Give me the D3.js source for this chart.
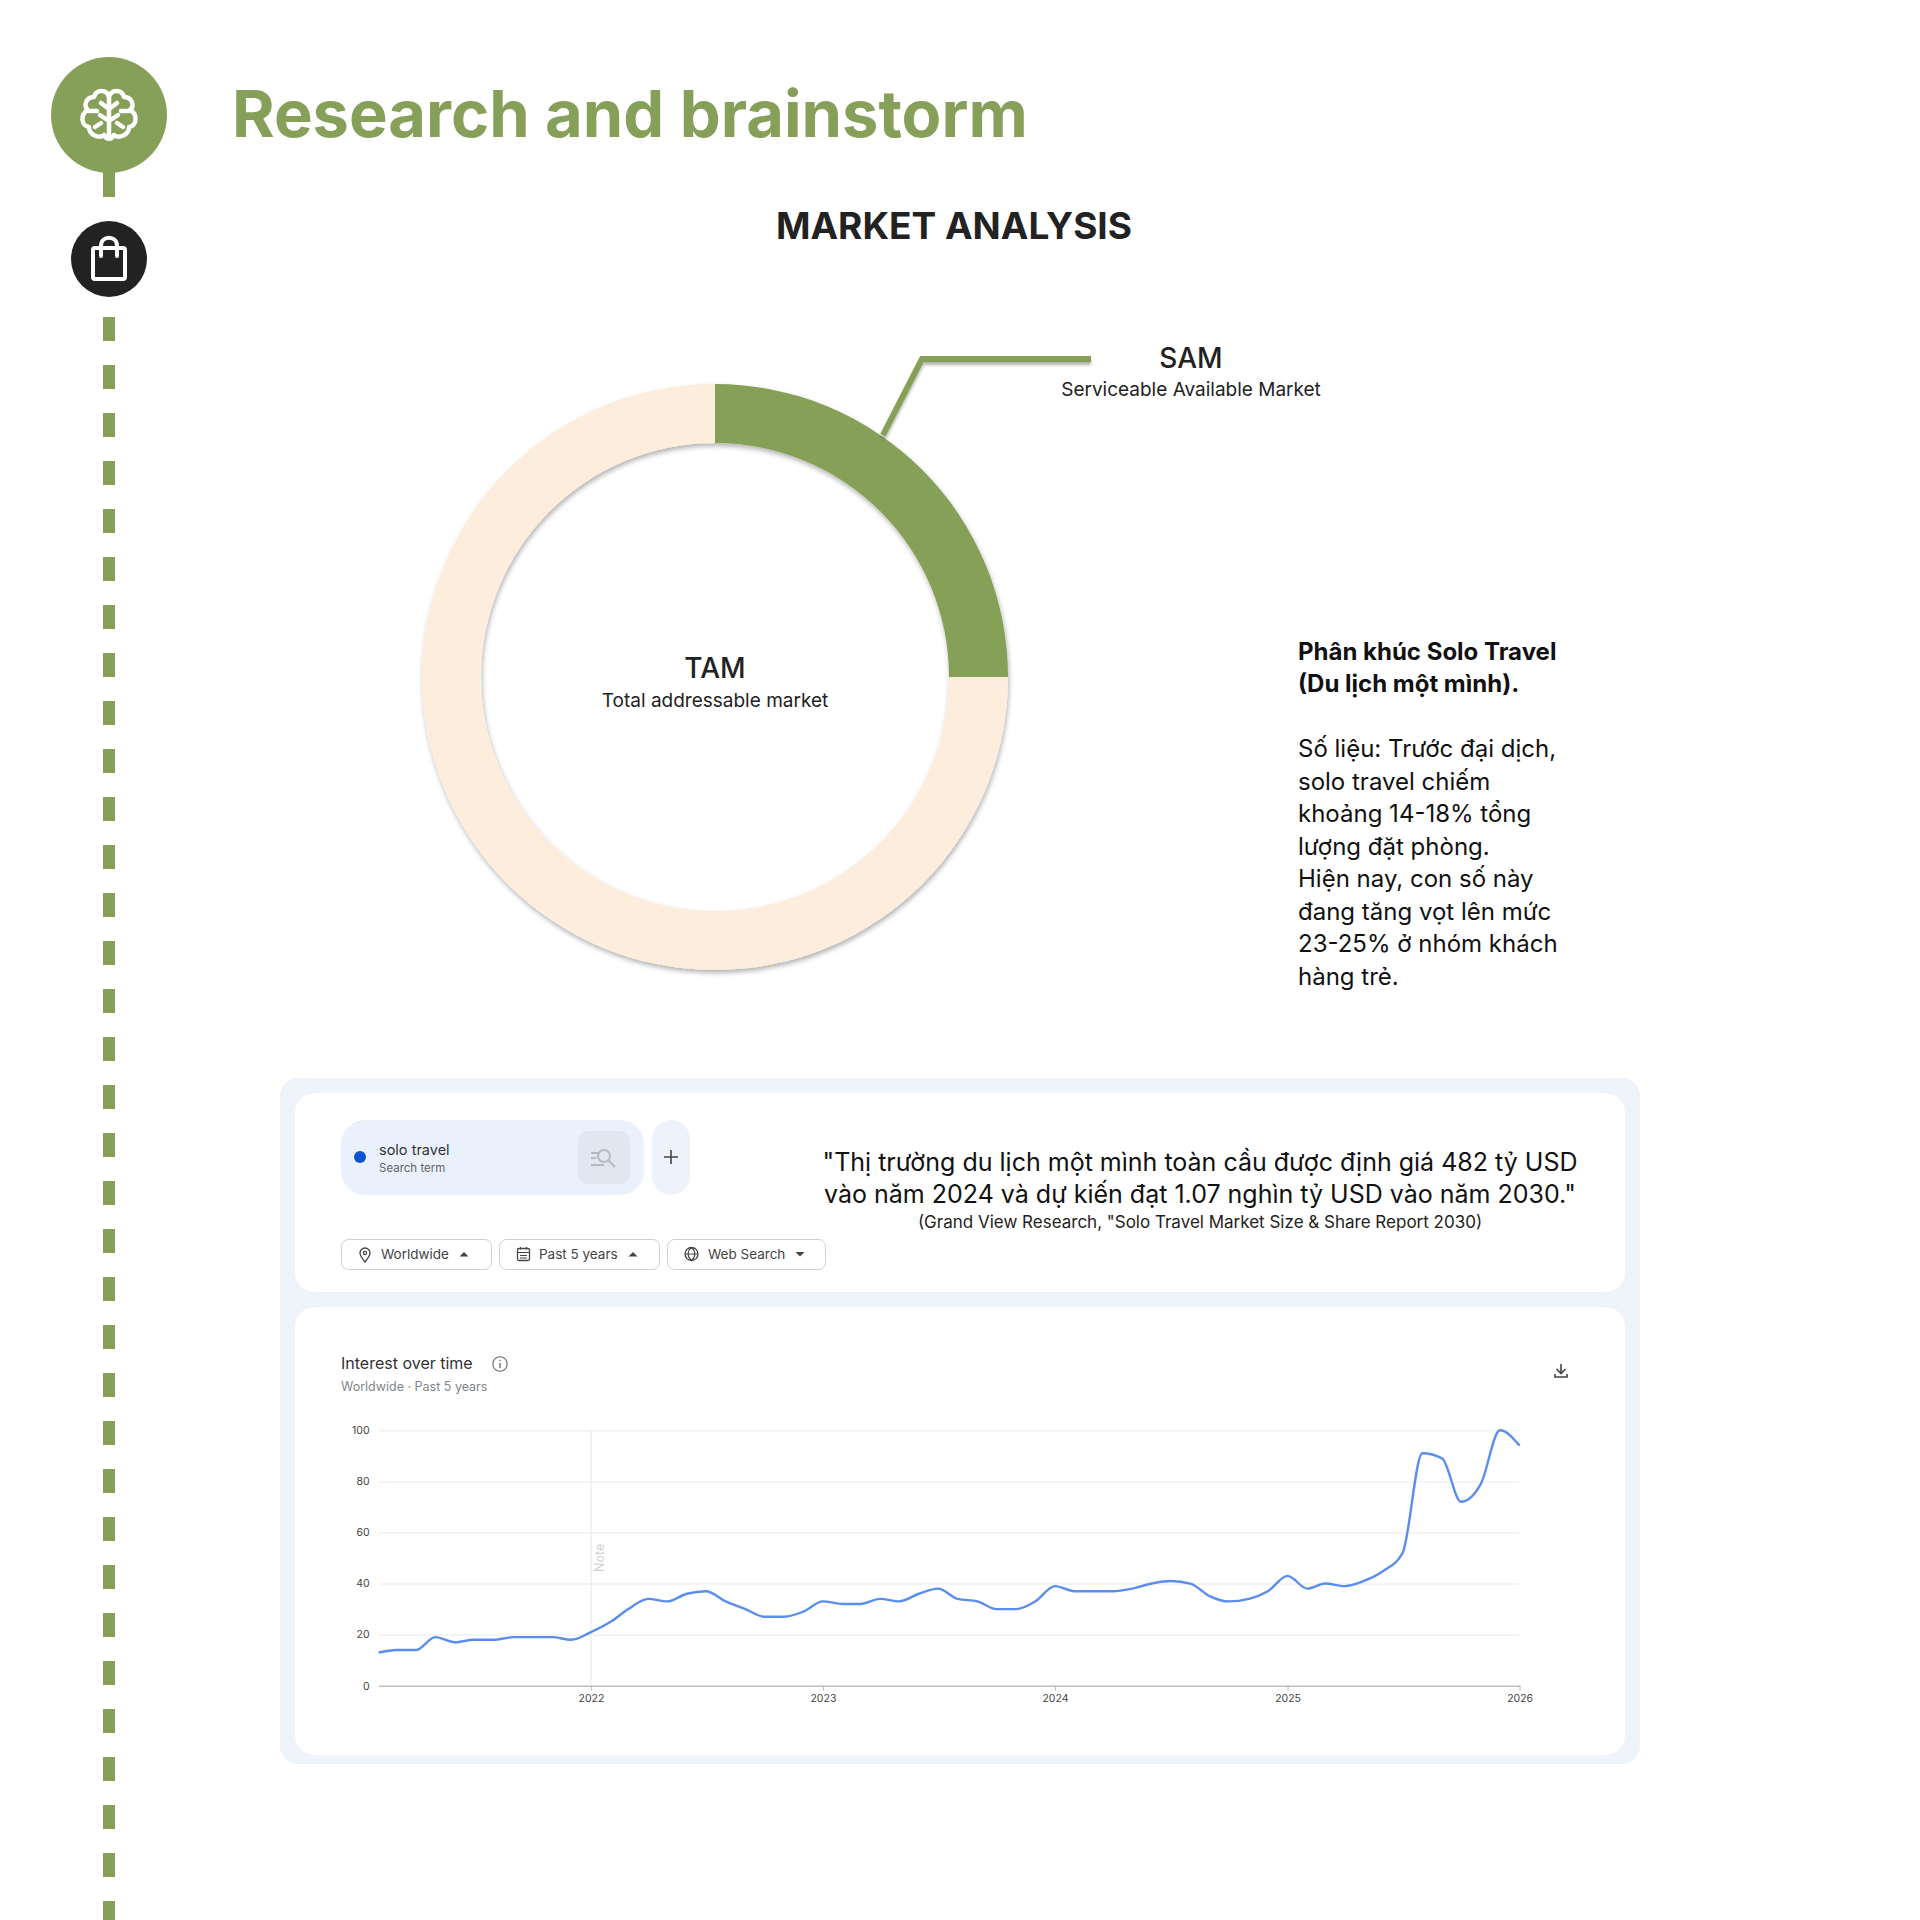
<!DOCTYPE html>
<html>
<head>
<meta charset="utf-8">
<script src="https://cdnjs.cloudflare.com/ajax/libs/d3/7.8.5/d3.min.js"></script>
<style>
  html, body { margin: 0; padding: 0; background: #fff; }
  text { font-family: Inter, "Noto Sans", sans-serif; }
  #chart { display: block; }
</style>
</head>
<body>
<svg id="chart" width="1920" height="1920"></svg>
<script>
// donut
const marketLabels = ["SAM", "TAM"]
const marketShares = [25, 75]

// interest over time, one value per month
const months = [
   "2021-02", "2021-03", "2021-04", "2021-05", "2021-06", "2021-07", "2021-08", "2021-09", "2021-10", "2021-11", "2021-12",
   "2022-01", "2022-02", "2022-03", "2022-04", "2022-05", "2022-06", "2022-07", "2022-08", "2022-09", "2022-10", "2022-11", "2022-12",
   "2023-01", "2023-02", "2023-03", "2023-04", "2023-05", "2023-06", "2023-07", "2023-08", "2023-09", "2023-10", "2023-11", "2023-12",
   "2024-01", "2024-02", "2024-03", "2024-04", "2024-05", "2024-06", "2024-07", "2024-08", "2024-09", "2024-10", "2024-11", "2024-12",
   "2025-01", "2025-02", "2025-03", "2025-04", "2025-05", "2025-06", "2025-07", "2025-08", "2025-09", "2025-10", "2025-11", "2025-12",
   "2026-01"
]
const interest = [
   13, 14, 14, 19, 17, 18, 18, 19, 19, 19, 18,
   21, 25, 30, 34, 33, 36, 37, 33, 30, 27, 27, 29,
   33, 32, 32, 34, 33, 36, 38, 34, 33, 30, 30, 33,
   39, 37, 37, 37, 38, 40, 41, 40, 35, 33, 34, 37,
   43, 38, 40, 39, 41, 45, 52, 91, 89, 72, 79, 100,
   94
]
const yTicks = [0, 20, 40, 60, 80, 100]
const xTickMonths = ["2022-01", "2023-01", "2024-01", "2025-01", "2026-01"]

const paragraphHead = ["Phân khúc Solo Travel", "(Du lịch một mình)."]
const paragraphBody = ["Số liệu: Trước đại dịch,", "solo travel chiếm", "khoảng 14-18% tổng", "lượng đặt phòng.", "Hiện nay, con số này", "đang tăng vọt lên mức", "23-25% ở nhóm khách", "hàng trẻ."]

const green = "#87A059"
const beige = "#FDEDDC"
const dark = "#222222"

const svg = d3.select("#chart")

const defs = svg.append("defs")
const shadow = defs.append("filter").attr("id", "soft")
   .attr("x", "-10%").attr("y", "-10%").attr("width", "120%").attr("height", "120%")
shadow.append("feDropShadow")
   .attr("dx", 1).attr("dy", 3).attr("stdDeviation", 2.5)
   .attr("flood-color", "#000").attr("flood-opacity", 0.3)
const lineShadow = defs.append("filter").attr("id", "softLine")
   .attr("x", "-10%").attr("y", "-20%").attr("width", "120%").attr("height", "140%")
lineShadow.append("feDropShadow")
   .attr("dx", 0).attr("dy", 3).attr("stdDeviation", 1.5)
   .attr("flood-color", "#000").attr("flood-opacity", 0.3)

function label(parent, x, y, str, size, opts) {
   opts = opts || {}
   return parent.append("text")
      .attr("x", x).attr("y", y)
      .attr("font-size", size)
      .attr("font-weight", opts.weight || 400)
      .attr("fill", opts.fill || dark)
      .attr("text-anchor", opts.anchor || "start")
      .attr("letter-spacing", opts.spacing || null)
      .text(str)
}

// ---- timeline on the left ----
const timeline = svg.append("g")
timeline.append("rect").attr("x", 103).attr("y", 165).attr("width", 12).attr("height", 32).attr("fill", green)
timeline.selectAll("rect.dash").data(d3.range(317, 1920, 48))
   .join("rect")
   .attr("class", "dash")
   .attr("x", 103).attr("y", d => d)
   .attr("width", 12).attr("height", 24)
   .attr("fill", green)
timeline.append("circle").attr("cx", 109).attr("cy", 115).attr("r", 58).attr("fill", green)
timeline.append("circle").attr("cx", 109).attr("cy", 259).attr("r", 38).attr("fill", dark)

// brain icon
const brain = timeline.append("g")
   .attr("transform", "translate(109,115)")
   .attr("fill", "none").attr("stroke", "#fff").attr("stroke-width", 4.5)
   .attr("stroke-linecap", "round").attr("stroke-linejoin", "round")
brain.append("path").attr("d",
   "M0,-18 C-2,-26 -13,-26 -15,-18 C-23,-18 -26,-9 -21,-5 C-29,-1 -28,11 -20,12 C-20,20 -10,24 -5,20 C-2,25 2,25 5,20 C10,24 20,20 20,12 C28,11 29,-1 21,-5 C26,-9 23,-18 15,-18 C13,-26 2,-26 0,-18 Z")
brain.append("path").attr("d", "M0,-18 V22 M0,-6 L-8,-12 M0,-6 L8,-12 M0,6 L-9,0 M0,6 L9,0 M-20,-4 H-12 M20,-4 H12 M-14,12 L-8,8 M14,12 L8,8")

// bag icon
const bag = timeline.append("g")
   .attr("transform", "translate(109,259)")
   .attr("fill", "none").attr("stroke", "#fff").attr("stroke-width", 4)
   .attr("stroke-linejoin", "round").attr("stroke-linecap", "round")
bag.append("rect").attr("x", -16).attr("y", -11).attr("width", 32).attr("height", 31).attr("rx", 2)
bag.append("path").attr("d", "M-8,-3 V-13 C-8,-24 8,-24 8,-13 V-3")

// ---- titles ----
label(svg, 232, 137, "Research and brainstorm", 65, { weight: 700, fill: green })
label(svg, 954, 239, "MARKET ANALYSIS", 37, { weight: 700, anchor: "middle" })

// ---- donut ----
const donutG = svg.append("g").attr("transform", "translate(715,677)")
const pie = d3.pie().sort(null)
const arc = d3.arc().innerRadius(234).outerRadius(293)
const marketColor = d3.scaleOrdinal().domain(marketLabels).range([green, beige])

// TAM goes first so the SAM slice sits on top
const ringG = donutG.append("g").attr("filter", "url(#soft)")
ringG.selectAll("path").data(pie(marketShares).reverse())
   .join("path")
   .attr("d", arc)
   .attr("fill", (d, i) => marketColor(marketLabels[1 - i]))

svg.append("path")
   .attr("d", "M883,435 L922,359 H1091")
   .attr("fill", "none").attr("stroke", green).attr("stroke-width", 6)
   .attr("filter", "url(#softLine)")

label(svg, 715, 678, "TAM", 28, { weight: 500, anchor: "middle" })
label(svg, 715, 707, "Total addressable market", 19, { anchor: "middle" })
label(svg, 1191, 368, "SAM", 28, { weight: 500, anchor: "middle" })
label(svg, 1191, 396, "Serviceable Available Market", 19, { anchor: "middle" })

// ---- right paragraph ----
const headBase = [660, 692]
paragraphHead.forEach((s, i) => label(svg, 1298, headBase[i], s, 24, { weight: 700, fill: "#111" }))
paragraphBody.forEach((s, i) => label(svg, 1298, 757 + i * 32.5, s, 24, { fill: "#111" }))

// ---- trends panel ----
const panel = svg.append("g")
panel.append("rect").attr("x", 280).attr("y", 1078).attr("width", 1360).attr("height", 686).attr("rx", 18).attr("fill", "#EFF3FA")
panel.append("rect").attr("x", 295).attr("y", 1093).attr("width", 1330).attr("height", 199).attr("rx", 20).attr("fill", "#fff")
panel.append("rect").attr("x", 295).attr("y", 1307).attr("width", 1330).attr("height", 448).attr("rx", 20).attr("fill", "#fff")

// search term chip
panel.append("rect").attr("x", 341).attr("y", 1120).attr("width", 303).attr("height", 75).attr("rx", 24).attr("fill", "#EBF1FC")
panel.append("rect").attr("x", 652).attr("y", 1120).attr("width", 38).attr("height", 75).attr("rx", 19).attr("fill", "#EEF2FA")
panel.append("circle").attr("cx", 360).attr("cy", 1157).attr("r", 6).attr("fill", "#0F52D0")
label(panel, 379, 1155, "solo travel", 14.5, { fill: "#333" })
label(panel, 379, 1172, "Search term", 11.5, { fill: "#5f6368" })
panel.append("rect").attr("x", 578).attr("y", 1131).attr("width", 52).attr("height", 53).attr("rx", 10).attr("fill", "#E1E7F1")
panel.append("path")
   .attr("d", "M591,1153 H598 M591,1158 H596 M591,1165 H604 M608,1160 L615,1167")
   .attr("fill", "none").attr("stroke", "#B5BAC2").attr("stroke-width", 2)
panel.append("circle").attr("cx", 604).attr("cy", 1156).attr("r", 6).attr("fill", "none").attr("stroke", "#B5BAC2").attr("stroke-width", 2)
panel.append("path").attr("d", "M671,1150 V1164 M664,1157 H678").attr("stroke", "#444").attr("stroke-width", 1.6)

// filter buttons
const btnX = [341, 499, 667]
const btnW = [150, 160, 158]
const btnText = ["Worldwide", "Past 5 years", "Web Search"]
const btnTextX = [381, 539, 708]
const btnCaretX = [464, 633, 800]
const btnCaretUp = [true, true, false]
btnX.forEach((x, i) => {
   panel.append("rect").attr("x", x + 0.5).attr("y", 1239.5).attr("width", btnW[i]).attr("height", 30)
      .attr("rx", 7).attr("fill", "#fff").attr("stroke", "#CFCFCF").attr("stroke-width", 1)
   label(panel, btnTextX[i], 1259, btnText[i], 13.5, { fill: "#444" })
   const cx = btnCaretX[i]
   panel.append("path")
      .attr("d", btnCaretUp[i]
         ? `M${cx - 4.5},1256.5 L${cx},1252 L${cx + 4.5},1256.5 Z`
         : `M${cx - 4.5},1252 L${cx},1256.5 L${cx + 4.5},1252 Z`)
      .attr("fill", "#444")
})
// pin
panel.append("path").attr("d", "M365,1262 C361,1257 360,1255 360,1253 A5,5 0 0 1 370,1253 C370,1255 369,1257 365,1262 Z")
   .attr("fill", "none").attr("stroke", "#444").attr("stroke-width", 1.3)
panel.append("circle").attr("cx", 365).attr("cy", 1253).attr("r", 1.6).attr("fill", "none").attr("stroke", "#444").attr("stroke-width", 1.2)
// calendar
panel.append("rect").attr("x", 517.5).attr("y", 1248.5).attr("width", 12).attr("height", 12).attr("rx", 1.5).attr("fill", "none").attr("stroke", "#444").attr("stroke-width", 1.3)
panel.append("path").attr("d", "M517.5,1252.5 H529.5 M520.5,1247 V1249.5 M526.5,1247 V1249.5 M520,1255.5 H527 M520,1258 H527").attr("stroke", "#444").attr("stroke-width", 1.1).attr("fill", "none")
// globe
panel.append("circle").attr("cx", 691.5).attr("cy", 1254).attr("r", 6.5).attr("fill", "none").attr("stroke", "#444").attr("stroke-width", 1.3)
panel.append("path").attr("d", "M685,1254 H698 M691.5,1247.5 C687,1251 687,1257 691.5,1260.5 C696,1257 696,1251 691.5,1247.5").attr("fill", "none").attr("stroke", "#444").attr("stroke-width", 1.1)

// quote
label(panel, 1200, 1171, "\"Thị trường du lịch một mình toàn cầu được định giá 482 tỷ USD", 25, { anchor: "middle", fill: "#111" })
label(panel, 1200, 1203, "vào năm 2024 và dự kiến đạt 1.07 nghìn tỷ USD vào năm 2030.\"", 25, { anchor: "middle", fill: "#111" })
label(panel, 1200, 1228, "(Grand View Research, \"Solo Travel Market Size & Share Report 2030)", 17, { anchor: "middle", fill: "#222" })

// card header
label(panel, 341, 1369, "Interest over time", 16, { fill: "#333" })
panel.append("circle").attr("cx", 500).attr("cy", 1364).attr("r", 7.2).attr("fill", "none").attr("stroke", "#666").attr("stroke-width", 1.1)
panel.append("path").attr("d", "M500,1363 V1368 M500,1360 V1361").attr("stroke", "#666").attr("stroke-width", 1.3)
label(panel, 341, 1391, "Worldwide  ·  Past 5 years", 12.5, { fill: "#80868B" })
panel.append("path")
   .attr("d", "M1561,1364 V1373 M1556.5,1369 L1561,1373.5 L1565.5,1369 M1555,1374 V1377 H1567 V1374")
   .attr("fill", "none").attr("stroke", "#444").attr("stroke-width", 1.6)

// ---- interest over time chart ----
const parseMonth = d3.timeParse("%Y-%m")
const x = d3.scaleTime()
   .domain([parseMonth(months[0]), parseMonth(months[months.length - 1])])
   .range([378.6, 1519.6])
const y = d3.scaleLinear().domain([0, 100]).range([1685.7, 1430.3])

const chartG = svg.append("g")

const yAxis = chartG.append("g")
   .attr("class", "y axis")
   .attr("transform", "translate(378.6,0)")
   .call(d3.axisLeft(y).tickValues(yTicks).tickSize(0).tickPadding(9))
yAxis.select(".domain").remove()
yAxis.selectAll("g.tick line")
   .attr("x1", 0).attr("x2", 1519.6 - 378.6)
   .attr("stroke", d => d === 0 ? "none" : "#F1F1F1")
   .attr("stroke-width", 1.5)
yAxis.selectAll("g.tick text")
   .attr("font-size", 10.5).attr("fill", "#444").attr("font-family", "Inter")

// note marker on 2022
chartG.append("line")
   .attr("x1", x(parseMonth("2022-01"))).attr("x2", x(parseMonth("2022-01")))
   .attr("y1", y(100)).attr("y2", y(0))
   .attr("stroke", "#E6E6E6").attr("stroke-width", 1)
chartG.append("text")
   .attr("transform", `translate(${x(parseMonth("2022-01")) + 13},1572) rotate(-90)`)
   .attr("font-size", 12.5).attr("fill", "#CFCFCF")
   .text("Note")

const xAxis = chartG.append("g")
   .attr("class", "x axis")
   .attr("transform", "translate(0,1685.7)")
   .call(d3.axisBottom(x).tickValues(xTickMonths.map(parseMonth)).tickSize(5).tickPadding(4).tickFormat(d3.timeFormat("%Y")).tickSizeOuter(0))
xAxis.select(".domain").attr("stroke", "#BDBDBD").attr("stroke-width", 1.5)
xAxis.selectAll("g.tick line").attr("stroke", "#BDBDBD")
xAxis.selectAll("g.tick text").attr("font-size", 10.5).attr("fill", "#444").attr("font-family", "Inter")

const line = d3.line()
   .x((d, i) => x(parseMonth(months[i])))
   .y(d => y(d))
   .curve(d3.curveMonotoneX)

chartG.append("path")
   .datum(interest)
   .attr("d", line)
   .attr("fill", "none")
   .attr("stroke", "#5B8DEF")
   .attr("stroke-width", 2.4)
   .attr("stroke-linejoin", "round")
</script>
</body>
</html>
